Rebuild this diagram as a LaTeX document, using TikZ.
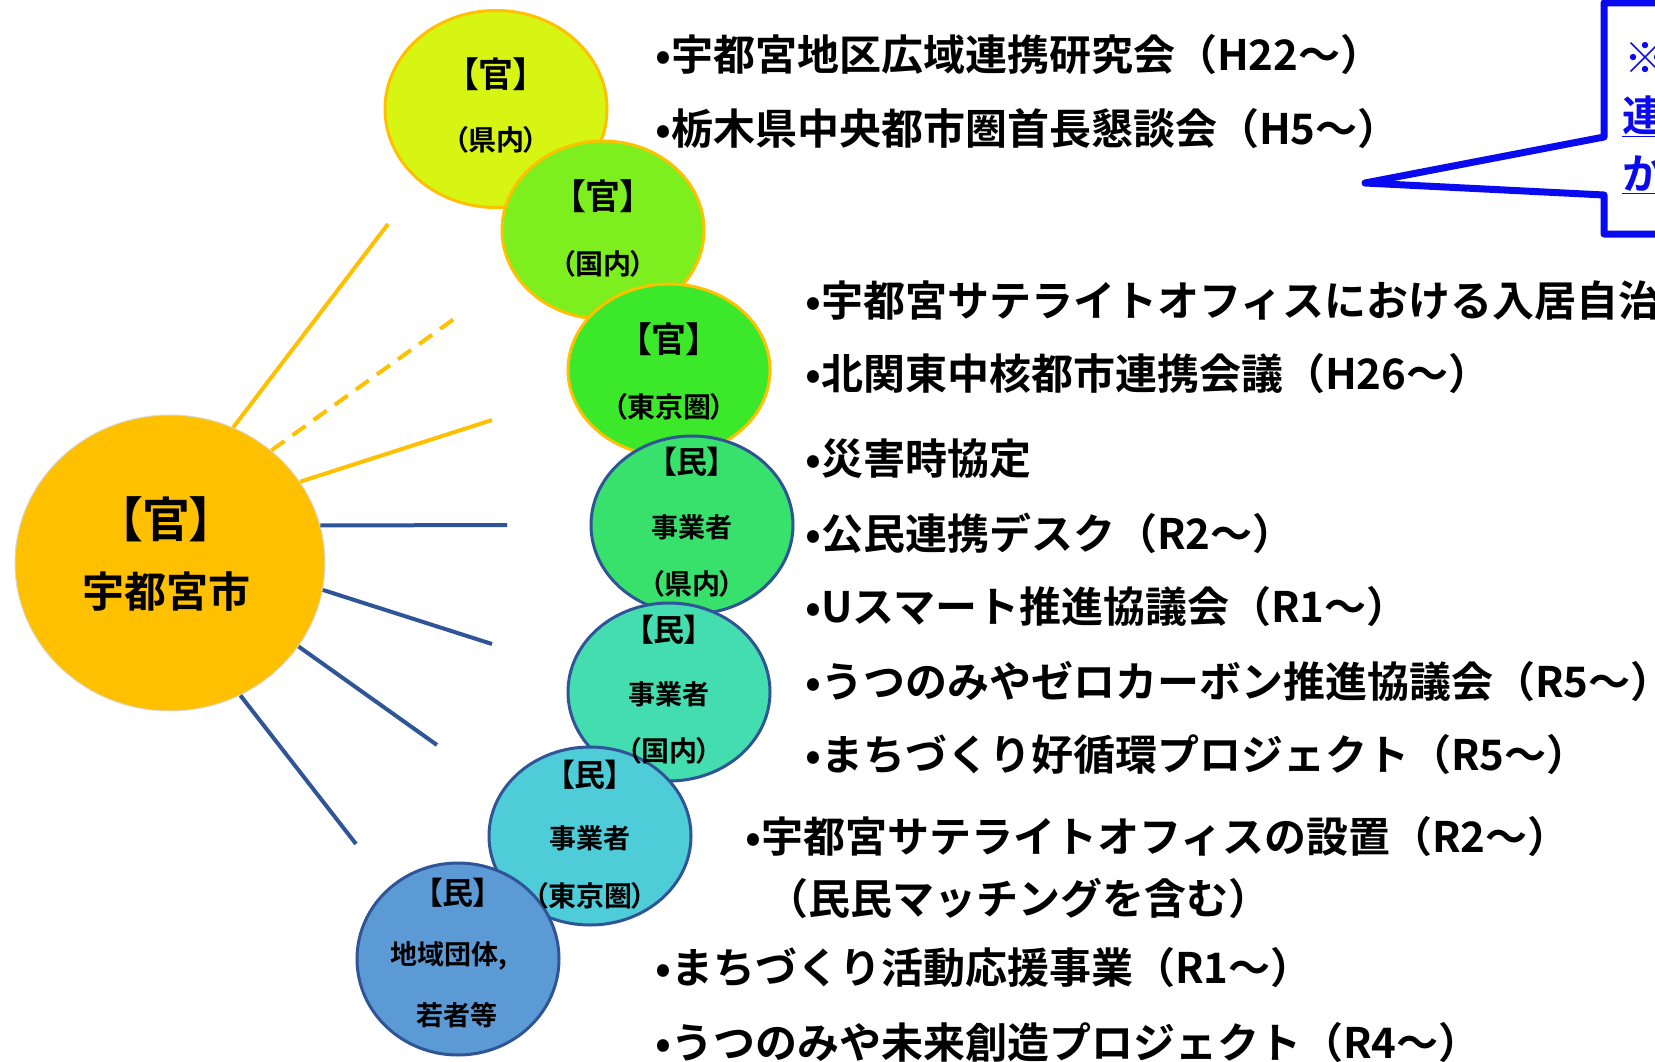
\documentclass[tikz,border=0pt]{standalone}
\usepackage{fontspec}
\usetikzlibrary{shapes.geometric}
\setmainfont{Noto Sans CJK JP Bold}
\newfontfamily\jp{Noto Sans CJK JP Bold}
\newfontfamily\jpp[RawFeature=+palt]{Noto Sans CJK JP Bold}
\definecolor{cOrange}{HTML}{FFC000}
\definecolor{cBlueLine}{HTML}{2F5597}
\definecolor{cA}{HTML}{D7F512}
\definecolor{cB}{HTML}{7DEE1E}
\definecolor{cC}{HTML}{3CE82A}
\definecolor{cD}{HTML}{38E06C}
\definecolor{cE}{HTML}{44DDB0}
\definecolor{cF}{HTML}{4ECCD8}
\definecolor{cG}{HTML}{5B9AD5}
\definecolor{cCallout}{HTML}{0A0AF0}
\tikzset{
  disc/.style={ellipse, inner sep=0pt, line width=3pt},
  govdisc/.style={disc, draw=cOrange},
  prvdisc/.style={disc, draw=cBlueLine},
  ctext/.style={inner sep=0pt, font=\jpp, text=black},
  bullettext/.style={anchor=west, inner sep=0pt, font=\jp\fontsize{42}{42}\selectfont, text=black},
  govline/.style={draw=cOrange, line width=4pt},
  prvline/.style={draw=cBlueLine, line width=4pt},
  callouttext/.style={anchor=west, inner sep=0pt, font=\jp\fontsize{42}{42}\selectfont, text=cCallout}
}
\begin{document}
\begin{tikzpicture}[x=1pt,y=-1pt]
\useasboundingbox (0,0) rectangle (1655,1062);
\clip (0,0) rectangle (1655,1062);
\fill[white] (0,0) rectangle (1655,1062);

% central circle
\node[disc, fill=cOrange, draw=white!85!black, line width=1pt, minimum width=310pt, minimum height=296pt] (c0) at (170,563) {};

% outer circles
\node[govdisc, fill=cA, minimum width=222pt, minimum height=197pt] (c1) at (496,109) {};
\node[govdisc, fill=cB, minimum width=202pt, minimum height=178pt] (c2) at (603,230) {};
\node[govdisc, fill=cC, minimum width=202pt, minimum height=172pt] (c3) at (669,370) {};
\node[prvdisc, fill=cD, minimum width=202pt, minimum height=178pt] (c4) at (692,525) {};
\node[prvdisc, fill=cE, minimum width=202pt, minimum height=178pt] (c5) at (669,692) {};
\node[prvdisc, fill=cF, minimum width=202pt, minimum height=178pt] (c6) at (590,836) {};
\node[prvdisc, fill=cG, minimum width=202pt, minimum height=192pt] (c7) at (458,959) {};

% connectors (free ends)
\coordinate (e1) at (388,224);
\coordinate (e2) at (454,319);
\coordinate (e3) at (492,420);
\coordinate (e4) at (507,525);
\coordinate (e5) at (492,644);
\coordinate (e6) at (437,745);
\coordinate (e7) at (356,844);
\draw[govline] (c0.65) -- (e1);
\draw[govline, dash pattern=on 16pt off 10pt] (c0.48) -- (e2);
\draw[govline] (c0.32) -- (e3);
\draw[prvline] (c0.14) -- (e4);
\draw[prvline] (c0.-10) -- (e5);
\draw[prvline] (c0.-33) -- (e6);
\draw[prvline] (c0.-62) -- (e7);

% texts in circles
\node[ctext, font=\jpp\fontsize{48}{48}\selectfont] (t0a) at (166,519) {【官】};
\node[ctext, font=\jpp\fontsize{42}{42}\selectfont] (t0b) at (166,591) {宇都宮市};

\node[ctext, font=\jpp\fontsize{35}{35}\selectfont] (t1a) at (496,74) {【官】};
\node[ctext, font=\jpp\fontsize{28}{28}\selectfont] (t1b) at (496,140) {（県内）};
\node[ctext, font=\jpp\fontsize{35}{35}\selectfont] (t2a) at (603,196) {【官】};
\node[ctext, font=\jpp\fontsize{28}{28}\selectfont] (t2b) at (603,264) {（国内）};
\node[ctext, font=\jpp\fontsize{35}{35}\selectfont] (t3a) at (669,339) {【官】};
\node[ctext, font=\jpp\fontsize{28}{28}\selectfont] (t3b) at (669,407) {（東京圏）};

\node[ctext, font=\jpp\fontsize{31}{31}\selectfont] (t4a) at (692,462) {【民】};
\node[ctext, font=\jpp\fontsize{27}{27}\selectfont] (t4b) at (692,527) {事業者};
\node[ctext, font=\jpp\fontsize{28}{28}\selectfont] (t4c) at (692,584) {（県内）};
\node[ctext, font=\jpp\fontsize{31}{31}\selectfont] (t5a) at (669,630) {【民】};
\node[ctext, font=\jpp\fontsize{27}{27}\selectfont] (t5b) at (669,694) {事業者};
\node[ctext, font=\jpp\fontsize{28}{28}\selectfont] (t5c) at (669,751) {（国内）};
\node[ctext, font=\jpp\fontsize{31}{31}\selectfont] (t6a) at (590,775) {【民】};
\node[ctext, font=\jpp\fontsize{27}{27}\selectfont] (t6b) at (590,838) {事業者};
\node[ctext, font=\jpp\fontsize{28}{28}\selectfont] (t6c) at (590,896) {（東京圏）};
\node[ctext, font=\jpp\fontsize{31}{31}\selectfont] (t7a) at (458,893) {【民】};
\node[ctext, font=\jpp\fontsize{27}{27}\selectfont] (t7b) at (449,956) {地域団体,};
\node[ctext, font=\jpp\fontsize{27}{27}\selectfont] (t7c) at (457,1015) {若者等};

% bullet list
\node[bullettext] (b1) at (655,55) {•宇都宮地区広域連携研究会（H22～）};
\node[bullettext] (b2) at (655,129) {•栃木県中央都市圏首長懇談会（H5～）};
\node[bullettext] (b3) at (805,301) {•宇都宮サテライトオフィスにおける入居自治};
\node[bullettext] (b4) at (805,374) {•北関東中核都市連携会議（H26～）};
\node[bullettext] (b5) at (805,459) {•災害時協定};
\node[bullettext] (b6) at (805,533) {•公民連携デスク（R2～）};
\node[bullettext] (b7) at (805,607) {•Uスマート推進協議会（R1～）};
\node[bullettext] (b8) at (805,681) {•うつのみやゼロカーボン推進協議会（R5～）};
\node[bullettext] (b9) at (805,755) {•まちづくり好循環プロジェクト（R5～）};
\node[bullettext] (b10) at (745,837) {•宇都宮サテライトオフィスの設置（R2～）};
\node[bullettext] (b11) at (766,898) {（民民マッチングを含む）};
\node[bullettext] (b12) at (655,968) {•まちづくり活動応援事業（R1～）};
\node[bullettext] (b13) at (655,1043) {•うつのみや未来創造プロジェクト（R4～）};

% callout
\coordinate (tip) at (1365,183);
\filldraw[draw=cCallout, fill=white, line width=7pt, line join=round]
  (1604,137) -- (1604,3) -- (1670,3) -- (1670,234) -- (1604,234) -- (1604,195) -- (tip) -- cycle;
\node[callouttext] (k1) at (1624,58) {※};
\node[callouttext] (k2) at (1622,116) {\underline{連}};
\node[callouttext] (k3) at (1622,175) {\underline{か}};
\end{tikzpicture}
\end{document}
